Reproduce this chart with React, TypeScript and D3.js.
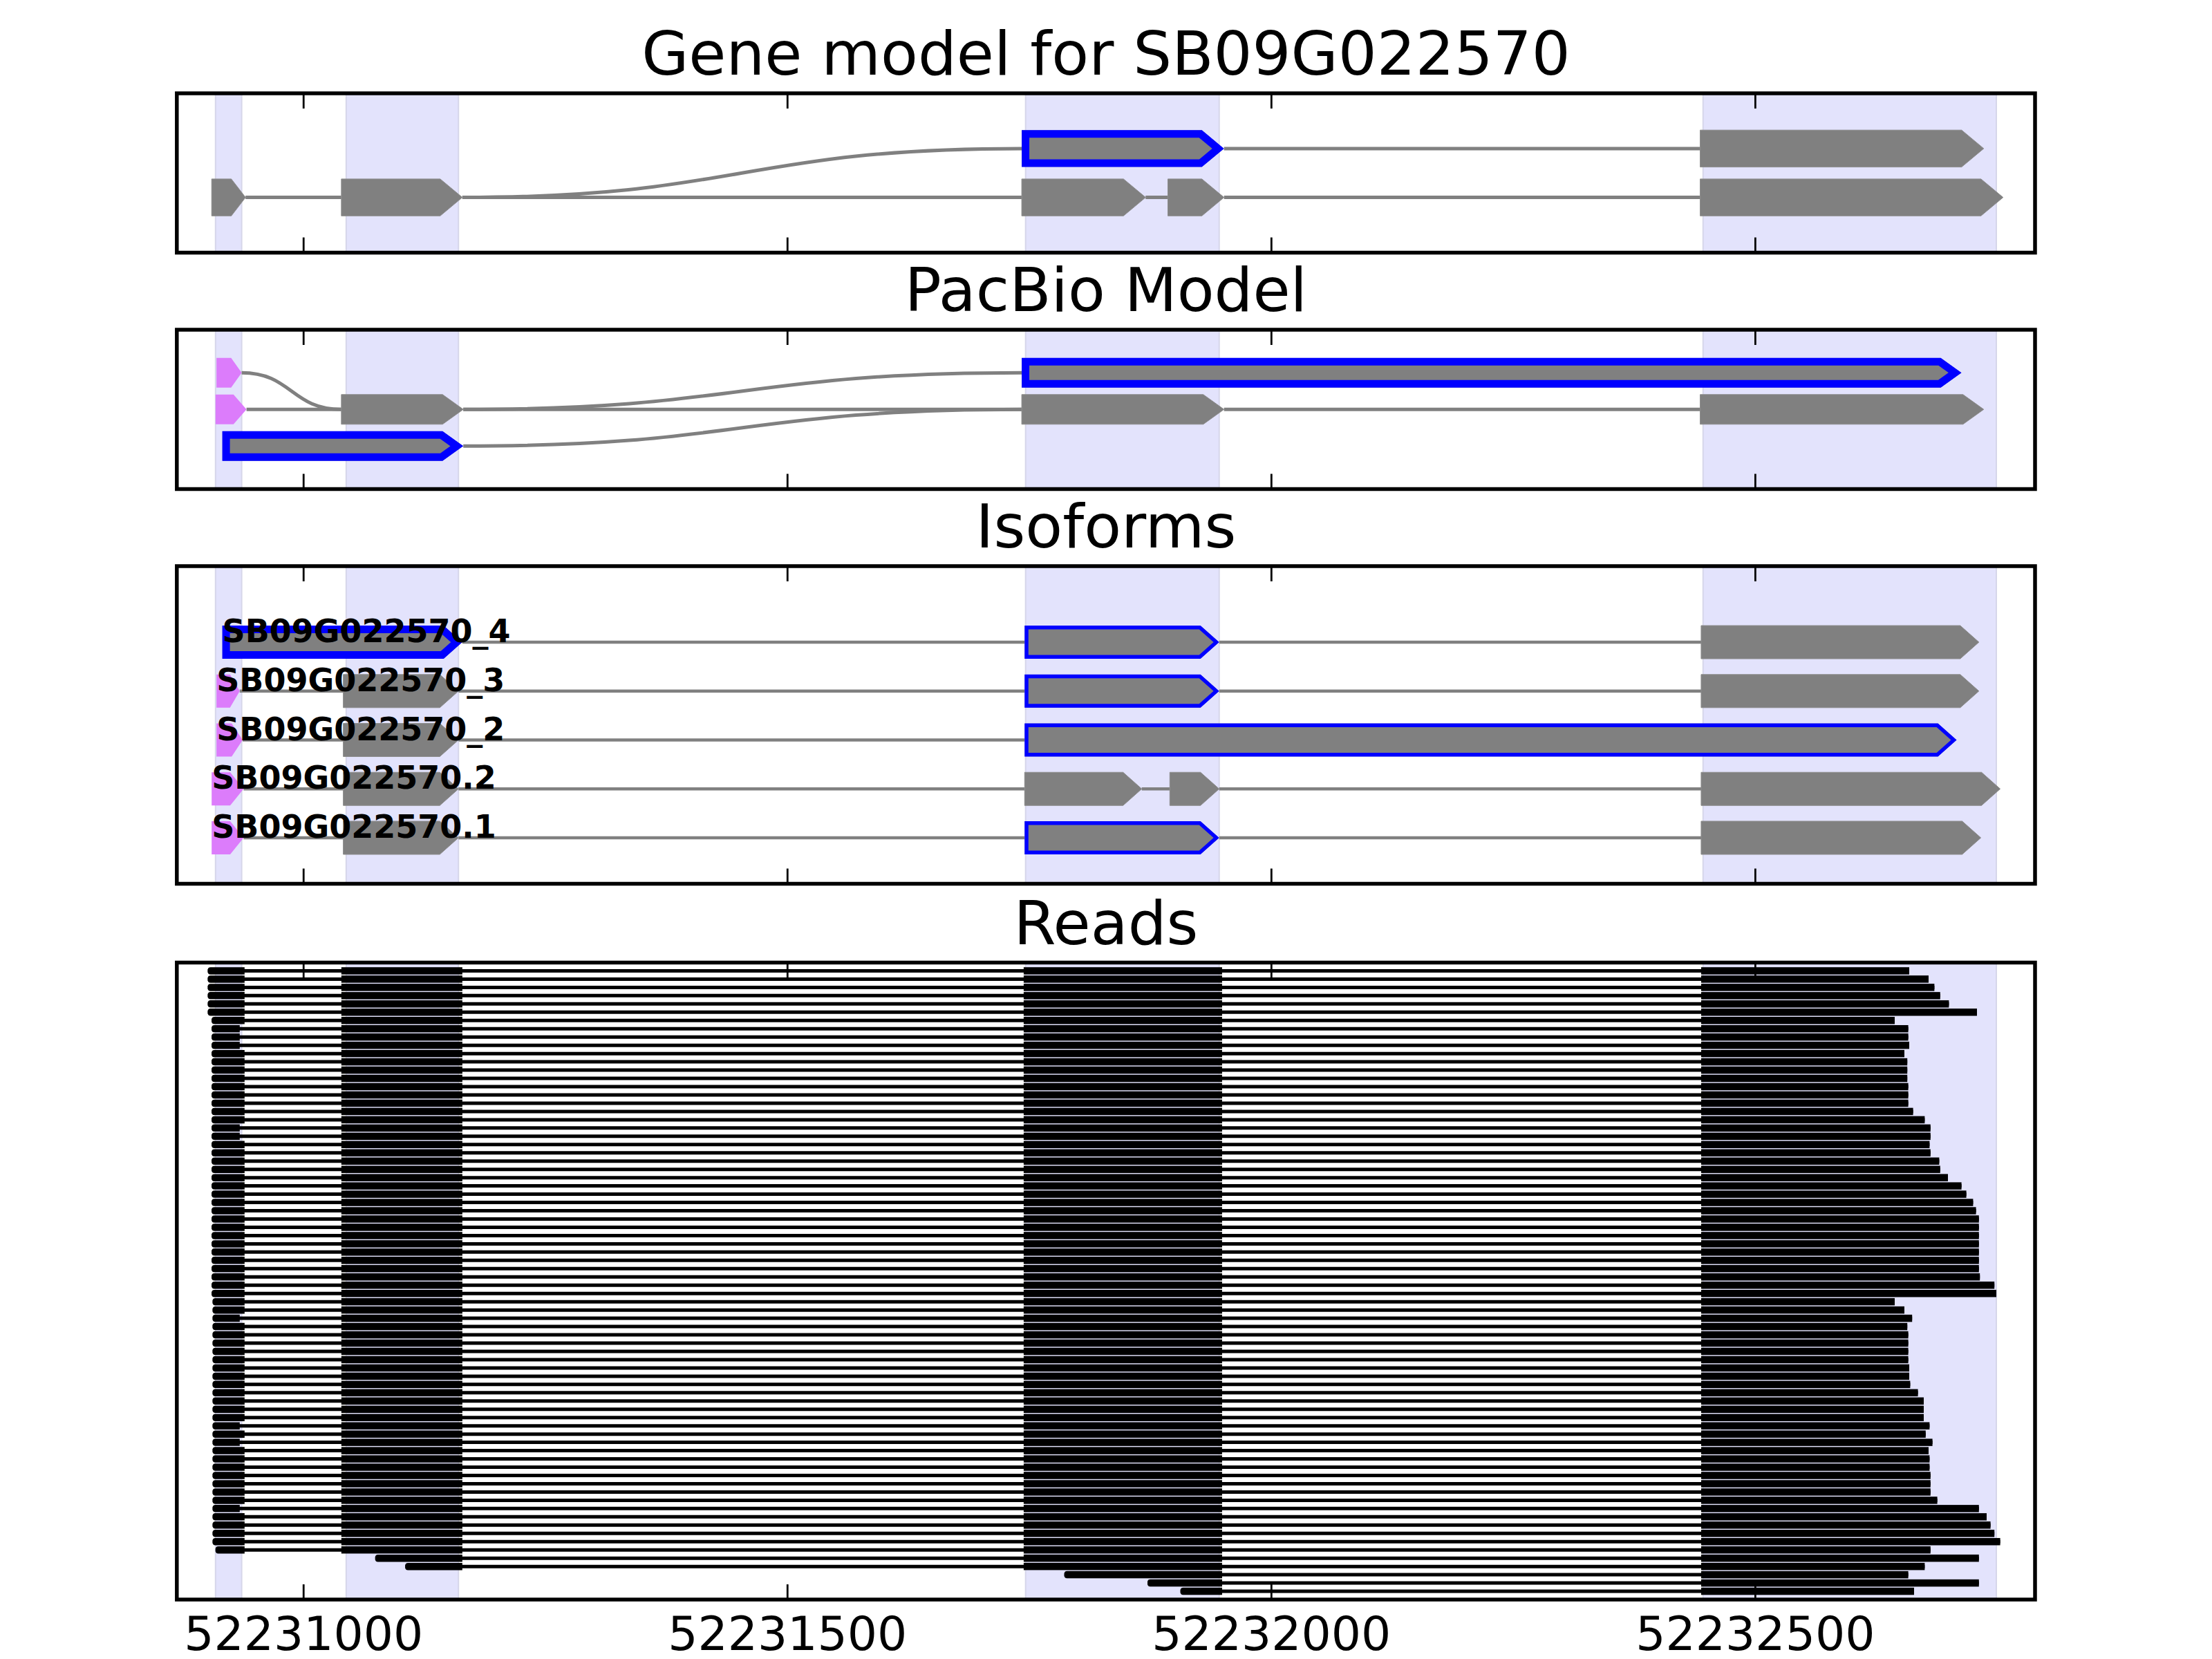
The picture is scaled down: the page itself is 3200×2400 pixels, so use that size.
import React from 'react';
import * as d3 from 'd3';

// ---------------- DATA ----------------
const xDomain = [52230869, 52232789];
const xTicks = [52231000, 52231500, 52232000, 52232500];
const panelTitles = ['Gene model for SB09G022570', 'PacBio Model', 'Isoforms', 'Reads'];

// shaded exon regions
const bandStarts = [52230909, 52231044, 52231746, 52232446];
const bandEnds = [52230936, 52231160, 52231946, 52232749];

// Gene model splice graph (row 0 = lower, row 1 = upper)
const geneNodeIds = ['g1', 'g2', 'g3', 'g4', 'g5', 'g6', 'g7'];
const geneNodeRows = [0, 0, 0, 0, 0, 1, 1];
const geneNodeStarts = [52230905, 52231039, 52231742, 52231893, 52232443, 52231742, 52232443];
const geneNodeEnds = [52230940, 52231164, 52231870, 52231951, 52232756, 52231951, 52232736];
const geneNodeKinds = ['gray', 'gray', 'gray', 'gray', 'gray', 'blueThick', 'gray'];
const geneEdges = [['g1', 'g2'], ['g2', 'g3'], ['g3', 'g4'], ['g4', 'g5'], ['g2', 'g6'], ['g6', 'g7']];

// PacBio splice graph (row 0 = bottom, row 2 = top)
const pbNodeIds = ['p1', 'p2', 'p3', 'p4', 'p5', 'p6', 'p7'];
const pbNodeRows = [2, 1, 1, 0, 2, 1, 1];
const pbNodeStarts = [52230910, 52230909, 52231039, 52230916, 52231742, 52231742, 52232443];
const pbNodeEnds = [52230936, 52230941, 52231165, 52231165, 52232713, 52231951, 52232736];
const pbNodeKinds = ['pink', 'pink', 'gray', 'blueThick', 'blueThick', 'gray', 'gray'];
const pbEdges = [['p1', 'p3'], ['p2', 'p3'], ['p3', 'p5'], ['p3', 'p6'], ['p4', 'p6'], ['p6', 'p7']];

// Isoforms (top to bottom)
const isoformNames = ['SB09G022570_4', 'SB09G022570_3', 'SB09G022570_2', 'SB09G022570.2', 'SB09G022570.1'];
const isoformExonStarts = [
  [52230916, 52231745, 52232444],
  [52230910, 52231041, 52231745, 52232444],
  [52230910, 52231041, 52231745],
  [52230905, 52231041, 52231745, 52231895, 52232444],
  [52230905, 52231041, 52231745, 52232444],
];
const isoformExonEnds = [
  [52231164, 52231946, 52232731],
  [52230934, 52231160, 52231946, 52232731],
  [52230937, 52231160, 52232708],
  [52230938, 52231160, 52231866, 52231946, 52232753],
  [52230938, 52231160, 52231946, 52232733],
];
const isoformExonKinds = [
  ['blueThick', 'blue', 'gray'],
  ['pink', 'gray', 'blue', 'gray'],
  ['pink', 'gray', 'blue'],
  ['pink', 'gray', 'gray', 'gray', 'gray'],
  ['pink', 'gray', 'blue', 'gray'],
];

// Reads (top to bottom)
const readExon2 = [52231039, 52231164];
const readExon3 = [52231744, 52231949];
const readExon4Start = 52232444;
const readStarts = [
  52230901, 52230901, 52230901, 52230901, 52230901, 52230901,
  52230905, 52230905, 52230905, 52230905, 52230905, 52230905, 52230905, 52230905, 52230905, 52230905,
  52230905, 52230905, 52230905, 52230905, 52230905, 52230905, 52230905, 52230905, 52230905, 52230905,
  52230905, 52230905, 52230905, 52230905, 52230905, 52230905, 52230905, 52230905, 52230905, 52230905,
  52230905, 52230905, 52230905, 52230905,
  52230906, 52230906, 52230906, 52230906, 52230906, 52230906, 52230906, 52230906, 52230906, 52230906,
  52230906, 52230906, 52230906, 52230906, 52230906, 52230906, 52230906, 52230906, 52230906, 52230906,
  52230906, 52230906, 52230906, 52230906, 52230906, 52230906, 52230906, 52230906, 52230906, 52230906,
  52230909, 52231074, 52231105, 52231786, 52231872, 52231906,
];
const readExon1Ends = [
  52230939, 52230939, 52230939, 52230939, 52230939, 52230939, 52230939, 52230934, 52230934, 52230934,
  52230939, 52230939, 52230939, 52230939, 52230939, 52230939, 52230939, 52230939, 52230939, 52230934,
  52230934, 52230939, 52230939, 52230939, 52230939, 52230939, 52230939, 52230939, 52230939, 52230939,
  52230939, 52230939, 52230939, 52230939, 52230939, 52230939, 52230939, 52230939, 52230939, 52230939,
  52230939, 52230939, 52230934, 52230939, 52230939, 52230939, 52230939, 52230939, 52230939, 52230939,
  52230939, 52230939, 52230939, 52230939, 52230939, 52230934, 52230939, 52230934, 52230939, 52230939,
  52230939, 52230939, 52230939, 52230939, 52230939, 52230934, 52230939, 52230939, 52230939, 52230939,
  52230939, 52230939, 52230939, 52230939, 52230939, 52230939,
];
const readEnds = [
  52232659, 52232679, 52232685, 52232691, 52232700, 52232729, 52232644, 52232658, 52232658, 52232659,
  52232654, 52232657, 52232657, 52232657, 52232658, 52232658, 52232658, 52232663, 52232675, 52232681,
  52232681, 52232680, 52232681, 52232690, 52232691, 52232699, 52232713, 52232718, 52232725, 52232728,
  52232731, 52232731, 52232731, 52232731, 52232731, 52232731, 52232731, 52232732, 52232747, 52232749,
  52232644, 52232654, 52232662, 52232657, 52232658, 52232658, 52232658, 52232658, 52232659, 52232659,
  52232660, 52232668, 52232674, 52232674, 52232674, 52232680, 52232676, 52232683, 52232679, 52232680,
  52232680, 52232681, 52232681, 52232681, 52232688, 52232731, 52232739, 52232743, 52232747, 52232753,
  52232681, 52232731, 52232675, 52232658, 52232731, 52232664,
];

// ---------------- LAYOUT / STYLE ----------------
const W = 3200;
const H = 2400;
const AX_LEFT = 255.8;
const AX_RIGHT = 2944;
const panels = [
  { top: 135, bottom: 365.5, yDomain: [-1.13, 2.13] },
  { top: 477, bottom: 707.5, yDomain: [-1.17, 3.17] },
  { top: 819, bottom: 1278.5, yDomain: [-0.94, 5.555] },
  { top: 1392.5, bottom: 2314, yDomain: [-1, 76] },
];
const GRAY = '#808080';
const PINK = '#dc7cfb';
const BLUE = '#0000ff';
const BAND_FILL = '#e3e3fc';
const BAND_EDGE = '#d6d6ea';
const FONT = "'DejaVu Sans', sans-serif";

const xs = d3.scaleLinear().domain(xDomain).range([AX_LEFT, AX_RIGHT]);

let clipCounter = 0;

function exonPolygon(x0: number, x1: number, yc: number, h: number, tipMax: number) {
  const tip = Math.min(tipMax, 0.42 * (x1 - x0));
  return [
    [x0, yc - h / 2],
    [x1 - tip, yc - h / 2],
    [x1, yc],
    [x1 - tip, yc + h / 2],
    [x0, yc + h / 2],
  ]
    .map((p) => p.join(','))
    .join(' ');
}

function Exon({ start, end, y, h, tip, kind }: any) {
  const pts = exonPolygon(xs(start), xs(end), y, h, tip);
  if (kind === 'gray') return <polygon points={pts} fill={GRAY} stroke="#8c8c8c" strokeWidth={1} />;
  if (kind === 'pink') return <polygon points={pts} fill={PINK} />;
  const sw = kind === 'blueThick' ? 11 : 5.5;
  const id = 'clip' + clipCounter++;
  return (
    <g>
      <clipPath id={id}>
        <polygon points={pts} />
      </clipPath>
      <polygon points={pts} fill={GRAY} stroke={BLUE} strokeWidth={sw * 2} strokeLinejoin="miter" clipPath={`url(#${id})`} />
    </g>
  );
}

function connector(x0: number, y0: number, x1: number, y1: number) {
  if (Math.abs(y0 - y1) < 0.01) return `M${x0},${y0}L${x1},${y1}`;
  const xm = (x0 + x1) / 2;
  return `M${x0},${y0}C${xm},${y0} ${xm},${y1} ${x1},${y1}`;
}

function Frame({ p, labels }: any) {
  const tickLen = 22;
  return (
    <g>
      {xTicks.map((t) => (
        <g key={t}>
          <line x1={xs(t)} x2={xs(t)} y1={p.bottom} y2={p.bottom - tickLen} stroke="#000" strokeWidth={2.8} />
          <line x1={xs(t)} x2={xs(t)} y1={p.top} y2={p.top + tickLen} stroke="#000" strokeWidth={2.8} />
          {labels && (
            <text x={xs(t)} y={p.bottom + 73} textAnchor="middle" fontFamily={FONT} fontSize={68}>
              {t}
            </text>
          )}
        </g>
      ))}
      <rect x={AX_LEFT} y={p.top} width={AX_RIGHT - AX_LEFT} height={p.bottom - p.top} fill="none" stroke="#000" strokeWidth={5.5} />
    </g>
  );
}

function Bands({ p }: any) {
  return (
    <g>
      {bandStarts.map((s, i) => (
        <rect
          key={i}
          x={xs(s)}
          y={p.top}
          width={xs(bandEnds[i]) - xs(s)}
          height={p.bottom - p.top}
          fill={BAND_FILL}
          stroke={BAND_EDGE}
          strokeWidth={2}
        />
      ))}
    </g>
  );
}

function Title({ p, text }: any) {
  return (
    <text x={(AX_LEFT + AX_RIGHT) / 2} y={p.top - 27} textAnchor="middle" fontFamily={FONT} fontSize={88}>
      {text}
    </text>
  );
}

function GraphPanel({ p, ids, rows, starts, ends, kinds, edges, h, tip, lw }: any) {
  const ys = d3.scaleLinear().domain(p.yDomain).range([p.bottom, p.top]);
  const idx = (id: string) => ids.indexOf(id);
  return (
    <g>
      {edges.map(([a, b]: any, i: number) => {
        const ia = idx(a);
        const ib = idx(b);
        return (
          <path
            key={i}
            d={connector(xs(ends[ia]), ys(rows[ia]), xs(starts[ib]), ys(rows[ib]))}
            fill="none"
            stroke={GRAY}
            strokeWidth={lw}
          />
        );
      })}
      {ids.map((id: string, i: number) => (
        <Exon key={id} start={starts[i]} end={ends[i]} y={ys(rows[i])} h={h} tip={tip} kind={kinds[i]} />
      ))}
    </g>
  );
}

function IsoformPanel({ p }: any) {
  const ys = d3.scaleLinear().domain(p.yDomain).range([p.bottom, p.top]);
  const n = isoformNames.length;
  return (
    <g>
      {isoformNames.map((name, r) => {
        const y = ys(n - 1 - r);
        const st = isoformExonStarts[r];
        const en = isoformExonEnds[r];
        return (
          <g key={name}>
            {st.slice(1).map((s, j) => (
              <line key={j} x1={xs(en[j])} x2={xs(s)} y1={y} y2={y} stroke={GRAY} strokeWidth={4.5} />
            ))}
            {st.map((s, j) => (
              <Exon key={'e' + j} start={s} end={en[j]} y={y} h={48} tip={27} kind={isoformExonKinds[r][j]} />
            ))}
          </g>
        );
      })}
      {isoformNames.map((name, r) => (
        <text
          key={'l' + name}
          x={xs(isoformExonStarts[r][0])}
          y={ys(n - 1 - r)}
          fontFamily={FONT}
          fontWeight="bold"
          fontSize={46}
          fill="#000"
        >
          {name}
        </text>
      ))}
    </g>
  );
}

function leftRoundedRect(x0: number, x1: number, y: number, h: number, r: number) {
  const t = y - h / 2;
  const b = y + h / 2;
  const rr = Math.min(r, (x1 - x0) / 2);
  return `M${x1},${t}L${x0 + rr},${t}Q${x0},${t} ${x0},${t + rr}L${x0},${b - rr}Q${x0},${b} ${x0 + rr},${b}L${x1},${b}Z`;
}

function ReadsPanel({ p }: any) {
  const ys = d3.scaleLinear().domain(p.yDomain).range([p.top, p.bottom]);
  return (
    <g>
      {readStarts.map((s, i) => {
        const y = ys(i);
        const e = readEnds[i];
        const blocks = [
          [s, readExon1Ends[i]],
          [readExon2[0], readExon2[1]],
          [readExon3[0], readExon3[1]],
          [readExon4Start, e],
        ]
          .filter((b) => b[1] > s)
          .map((b) => [Math.max(b[0], s), b[1]]);
        return (
          <g key={i}>
            <line x1={xs(s)} x2={xs(e)} y1={y} y2={y} stroke="#000" strokeWidth={5} />
            {blocks.map((b, j) =>
              j === 0 ? (
                <path key={j} d={leftRoundedRect(xs(b[0]), xs(b[1]), y, 10.5, 4)} fill="#000" />
              ) : (
                <rect key={j} x={xs(b[0])} y={y - 5.25} width={xs(b[1]) - xs(b[0])} height={10.5} fill="#000" />
              )
            )}
          </g>
        );
      })}
    </g>
  );
}

export default function App() {
  clipCounter = 0;
  return (
    <svg width={W} height={H} viewBox={`0 0 ${W} ${H}`} style={{ position: 'absolute', left: 0, top: 0 }}>
      <rect width={W} height={H} fill="#fff" />
      {panels.map((p, i) => (
        <g key={'b' + i}>
          <Bands p={p} />
        </g>
      ))}
      <GraphPanel
        p={panels[0]}
        ids={geneNodeIds}
        rows={geneNodeRows}
        starts={geneNodeStarts}
        ends={geneNodeEnds}
        kinds={geneNodeKinds}
        edges={geneEdges}
        h={53.4}
        tip={32}
        lw={5}
      />
      <GraphPanel
        p={panels[1]}
        ids={pbNodeIds}
        rows={pbNodeRows}
        starts={pbNodeStarts}
        ends={pbNodeEnds}
        kinds={pbNodeKinds}
        edges={pbEdges}
        h={43}
        tip={30}
        lw={5}
      />
      <IsoformPanel p={panels[2]} />
      <ReadsPanel p={panels[3]} />
      {panels.map((p, i) => (
        <g key={'f' + i}>
          <Frame p={p} labels={i === 3} />
          <Title p={p} text={panelTitles[i]} />
        </g>
      ))}
    </svg>
  );
}
